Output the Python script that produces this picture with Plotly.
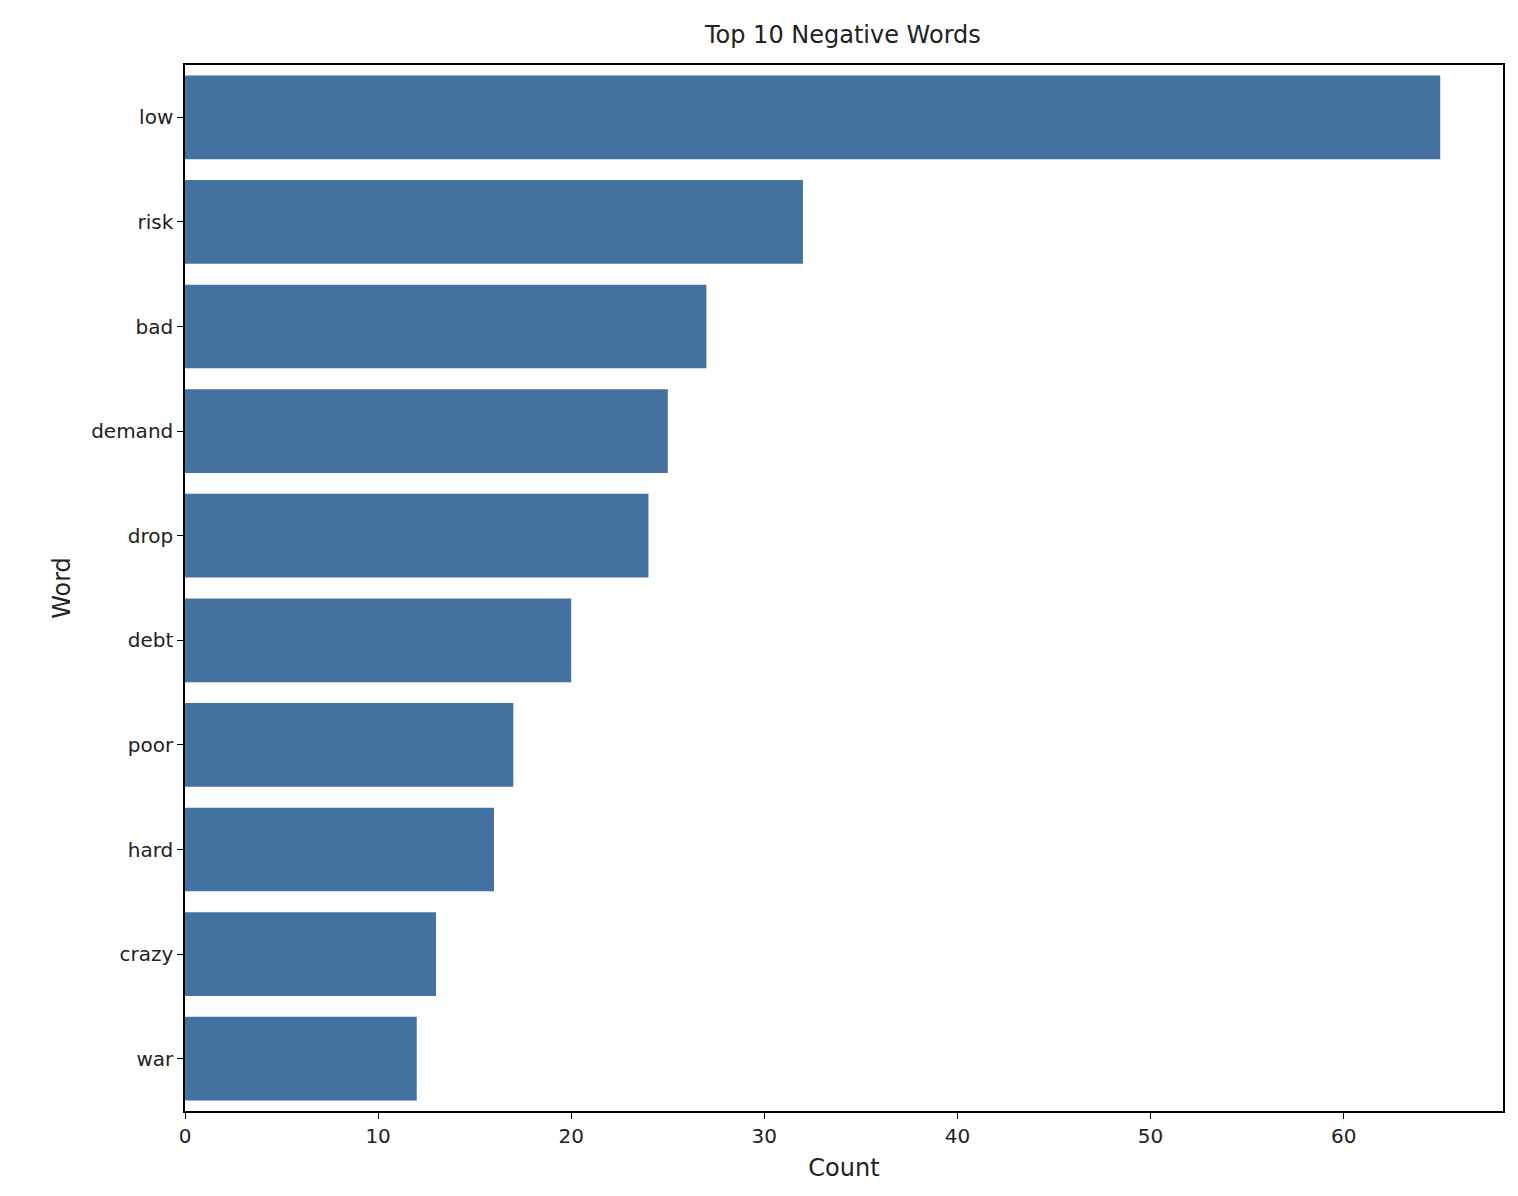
import plotly.graph_objects as go

words = ["low", "risk", "bad", "demand", "drop", "debt", "poor", "hard", "crazy", "war"]
counts = [65, 32, 27, 25, 24, 20, 17, 16, 13, 12]

fig = go.Figure(go.Bar(
    x=counts, y=words, orientation="h",
    marker=dict(color="#4472a0", line=dict(width=0)),
    width=0.8,
))

fig.update_layout(
    width=1518, height=1196,
    margin=dict(l=177, r=23, t=57, b=93),
    plot_bgcolor="white", paper_bgcolor="white",
    font=dict(family="DejaVu Sans", size=20, color="#222"),
    title=dict(text="Top 10 Negative Words", x=0.55, xanchor="center", y=0.985, yanchor="top",
               font=dict(size=24)),
    showlegend=False,
)
fig.update_xaxes(
    range=[0, 68.25], tickvals=[0, 10, 20, 30, 40, 50, 60],
    ticks="outside", ticklen=6, tickcolor="black",
    showgrid=False, zeroline=False,
    showline=True, linecolor="black", linewidth=1.5, mirror=True,
    title=dict(text="Count", standoff=12),
)
fig.update_yaxes(
    range=[9.5, -0.5],
    ticks="outside", ticklen=6, tickcolor="black",
    showgrid=False, zeroline=False,
    showline=True, linecolor="black", linewidth=1.5, mirror=True,
    title=dict(text="Word", standoff=14),
)

fig.write_html("out.html")
